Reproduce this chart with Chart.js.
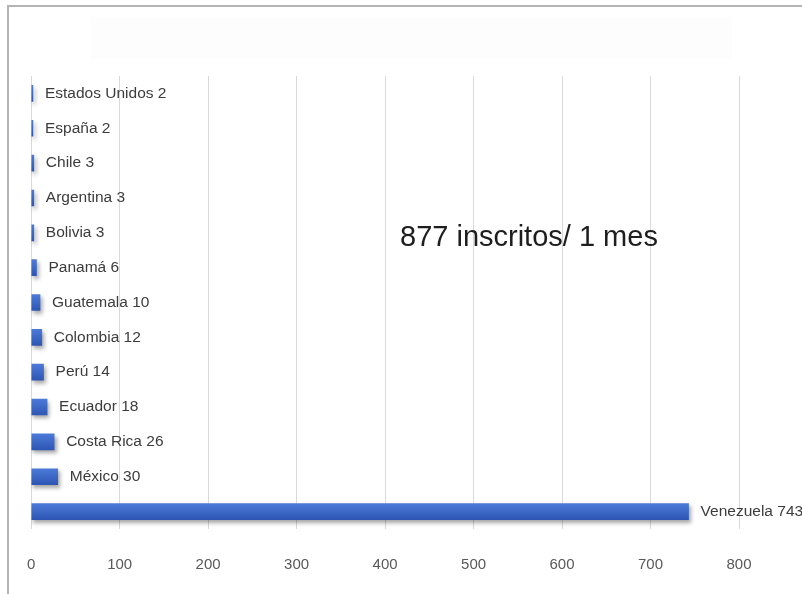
<!DOCTYPE html>
<html>
<head>
<meta charset="utf-8">
<script src="https://cdn.jsdelivr.net/npm/chart.js@4.4.1/dist/chart.umd.min.js"></script>
<style>
  html, body { margin: 0; padding: 0; background: #fff; }
  #wrap { position: relative; width: 802px; height: 594px; overflow: hidden; }
  #frame { position: absolute; left: 7px; top: 5px; right: -10px; bottom: -10px;
           border-left: 2px solid #b4b4b4; border-top: 2px solid #b4b4b4; }
  #titulo { position: absolute; left: 90px; top: 17px; width: 642px; height: 42px; background: #fdfdfd; }
  canvas { position: absolute; left: 0; top: 0; }
</style>
</head>
<body>
<div id="wrap">
  <div id="frame"></div>
  <div id="titulo"></div>
  <canvas id="myChart" width="802" height="594"></canvas>
</div>
<script>
// Datos del gráfico
const paises = ['Estados Unidos', 'España', 'Chile', 'Argentina', 'Bolivia', 'Panamá',
                'Guatemala', 'Colombia', 'Perú', 'Ecuador', 'Costa Rica', 'México', 'Venezuela'];
const inscritos = [2, 2, 3, 3, 3, 6, 10, 12, 14, 18, 26, 30, 743];
const marcasX = [0, 100, 200, 300, 400, 500, 600, 700, 800];
const textoTotal = '877 inscritos/ 1 mes';

const fuente = '"Liberation Sans", Arial, sans-serif';

// Etiquetas "País valor" al final de cada barra
const etiquetasPlugin = {
    id: 'etiquetas',
    afterDatasetsDraw(chart) {
        const ctx = chart.ctx;
        const meta = chart.getDatasetMeta(0);
        ctx.save();
        ctx.font = '15.5px ' + fuente;
        ctx.fillStyle = '#3c3c3c';
        ctx.textBaseline = 'middle';
        meta.data.forEach((bar, i) => {
            ctx.fillText(paises[i] + ' ' + inscritos[i], bar.x + 12, bar.y);
        });
        // texto del total
        ctx.font = '29px ' + fuente;
        ctx.fillStyle = '#1e1e1e';
        ctx.fillText(textoTotal, 400, 238);
        ctx.restore();
    }
};

// Sombra de las barras
const sombraPlugin = {
    id: 'sombra',
    beforeDatasetDraw(chart) {
        const ctx = chart.ctx;
        ctx.save();
        ctx.shadowColor = 'rgba(0, 0, 0, 0.35)';
        ctx.shadowBlur = 4;
        ctx.shadowOffsetX = 2;
        ctx.shadowOffsetY = 3;
    },
    afterDatasetDraw(chart) {
        chart.ctx.restore();
    }
};

const ctx = document.getElementById('myChart').getContext('2d');
const myChart = new Chart(ctx, {
    type: 'bar',
    data: {
        labels: paises,
        datasets: [{
            data: inscritos,
            backgroundColor: function(c) {
                const y = c.chart.scales && c.chart.scales.y;
                if (!y || c.dataIndex === undefined) return '#3a62c4';
                const py = y.getPixelForValue(c.dataIndex);
                if (!Number.isFinite(py)) return '#3a62c4';
                const g = c.chart.ctx.createLinearGradient(0, py - 8, 0, py + 8);
                g.addColorStop(0, '#4c7ad8');
                g.addColorStop(1, '#2e56b4');
                return g;
            },
            borderWidth: 0,
            barThickness: 16
        }]
    },
    options: {
        indexAxis: 'y',
        responsive: false,
        animation: false,
        layout: {
            padding: { top: 76, right: 63, bottom: 19, left: 31 }
        },
        plugins: {
            legend: { display: false },
            tooltip: { enabled: false }
        },
        scales: {
            x: {
                min: 0,
                max: 800,
                afterBuildTicks: (axis) => {
                    axis.ticks = marcasX.map(v => ({ value: v }));
                },
                afterFit: (axis) => {
                    axis.height = 46;
                },
                grid: {
                    color: '#d9d9d9',
                    lineWidth: 1,
                    drawTicks: false
                },
                border: { display: false },
                ticks: {
                    color: '#595959',
                    padding: 27,
                    font: { size: 15, family: fuente }
                }
            },
            y: {
                display: false
            }
        }
    },
    plugins: [sombraPlugin, etiquetasPlugin]
});
</script>
</body>
</html>
